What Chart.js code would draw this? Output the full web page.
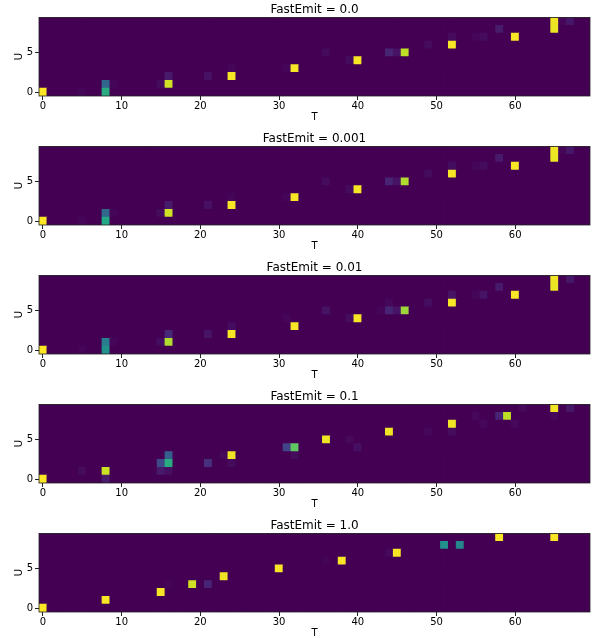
<!DOCTYPE html>
<html>
<head>
<meta charset="utf-8">
<script src="https://cdn.jsdelivr.net/npm/chart.js@4.4.1/dist/chart.umd.min.js"></script>
<style>
  html, body { margin: 0; padding: 0; background: #fff; overflow: hidden; }
  .panel { position: absolute; left: 0; width: 593px; height: 125px; }
</style>
</head>
<body>
<div id="wrap"></div>
<script>
// axis categories
const T_LABELS = Array.from({ length: 70 }, (_, i) => i)
const U_ROWS = [0, 1, 2, 3, 4, 5, 6, 7, 8, 9]
const FASTEMIT = ['0.0', '0.001', '0.01', '0.1', '1.0']

// non-zero cells per panel: [T, U, value]
const CELLS_0 = [
  [0, 0, 1.0], [5, 0, 0.015], [8, 0, 0.62], [8, 1, 0.33], [9, 1, 0.015],
  [15, 1, 0.03], [16, 1, 0.93], [16, 2, 0.07], [21, 2, 0.045], [24, 2, 0.99], [24, 3, 0.015],
  [31, 3, 0.015], [32, 3, 0.99], [36, 5, 0.025], [39, 4, 0.03], [40, 4, 0.99],
  [44, 5, 0.1], [45, 5, 0.05], [46, 5, 0.9], [49, 6, 0.03], [52, 6, 0.99], [52, 7, 0.03],
  [55, 7, 0.015], [56, 7, 0.03], [58, 8, 0.07], [60, 7, 0.99],
  [65, 8, 0.97], [65, 9, 0.98], [66, 9, 0.015], [67, 9, 0.06]
]
const CELLS_1 = [
  [0, 0, 1.0], [5, 0, 0.015], [8, 0, 0.6], [8, 1, 0.34], [9, 1, 0.015],
  [15, 1, 0.03], [16, 1, 0.93], [16, 2, 0.07], [21, 2, 0.045], [24, 2, 0.99], [24, 3, 0.015],
  [31, 3, 0.015], [32, 3, 0.99], [36, 5, 0.03], [39, 4, 0.03], [40, 4, 0.99],
  [44, 5, 0.1], [45, 5, 0.05], [46, 5, 0.88], [49, 6, 0.03], [52, 6, 0.99], [52, 7, 0.035],
  [55, 7, 0.015], [56, 7, 0.03], [58, 8, 0.07], [60, 7, 0.99],
  [65, 8, 0.97], [65, 9, 0.98], [66, 9, 0.015], [67, 9, 0.06]
]
const CELLS_2 = [
  [0, 0, 1.0], [5, 0, 0.015], [8, 0, 0.5], [8, 1, 0.42], [9, 1, 0.015],
  [15, 1, 0.035], [16, 1, 0.88], [16, 2, 0.11], [21, 2, 0.05], [24, 2, 0.99], [24, 3, 0.035],
  [31, 4, 0.015], [32, 3, 0.99], [36, 5, 0.05], [39, 4, 0.03], [40, 4, 0.99],
  [43, 5, 0.015], [44, 5, 0.1], [44, 6, 0.02], [45, 5, 0.05], [46, 5, 0.85],
  [49, 6, 0.035], [52, 6, 0.99], [52, 7, 0.05], [55, 7, 0.015], [56, 7, 0.05],
  [58, 8, 0.07], [60, 7, 0.99], [65, 8, 0.97], [65, 9, 0.98], [67, 9, 0.06]
]
const CELLS_3 = [
  [0, 0, 1.0], [5, 1, 0.03], [8, 0, 0.07], [8, 1, 0.92],
  [15, 1, 0.07], [15, 2, 0.22], [16, 1, 0.04], [16, 2, 0.62], [16, 3, 0.3],
  [21, 2, 0.14], [23, 3, 0.02], [24, 2, 0.03], [24, 3, 0.98],
  [31, 4, 0.2], [32, 3, 0.03], [32, 4, 0.75], [36, 5, 0.98],
  [39, 5, 0.02], [40, 4, 0.04], [44, 6, 0.98], [49, 6, 0.02],
  [52, 6, 0.03], [52, 7, 0.98], [55, 8, 0.02], [56, 7, 0.02],
  [58, 8, 0.1], [59, 8, 0.9], [60, 7, 0.02], [61, 9, 0.02],
  [65, 8, 0.02], [65, 9, 0.98], [67, 9, 0.06]
]
const CELLS_4 = [
  [0, 0, 1.0], [8, 1, 0.99], [15, 2, 0.99], [16, 3, 0.015], [19, 3, 0.93], [21, 3, 0.1],
  [23, 4, 0.98], [30, 5, 0.99], [36, 6, 0.01], [38, 6, 0.99], [44, 7, 0.02], [45, 7, 0.99],
  [51, 8, 0.5], [53, 8, 0.46], [58, 9, 0.99], [65, 9, 0.99]
]
const PANELS = [CELLS_0, CELLS_1, CELLS_2, CELLS_3, CELLS_4]

// viridis colormap stops
const VIRIDIS = ['#440154', '#482475', '#414487', '#355f8d', '#2a788e', '#21918c',
  '#22a884', '#44bf70', '#7ad151', '#bddf26', '#fde725']

function hexRgb(h) {
  return [1, 3, 5].map(i => parseInt(h.slice(i, i + 2), 16))
}

function viridis(v) {
  const x = Math.min(Math.max(v, 0), 1) * 10
  const i = Math.min(Math.floor(x), 9)
  const f = x - i
  const a = hexRgb(VIRIDIS[i]), b = hexRgb(VIRIDIS[i + 1])
  const c = a.map((av, k) => Math.round(av + (b[k] - av) * f))
  return `rgb(${c[0]},${c[1]},${c[2]})`
}

const FONT = 'DejaVu Sans'

const frame = {
  id: 'frame',
  beforeDatasetsDraw(chart) {
    const { ctx, chartArea: a } = chart
    ctx.save()
    ctx.fillStyle = VIRIDIS[0]
    ctx.fillRect(a.left, a.top, a.right - a.left, a.bottom - a.top)
    ctx.restore()
  },
  afterDatasetsDraw(chart) {
    const { ctx, chartArea: a } = chart
    ctx.save()
    ctx.strokeStyle = '#222'
    ctx.lineWidth = 0.8
    ctx.strokeRect(a.left, a.top, a.right - a.left, a.bottom - a.top)
    ctx.restore()
  }
}

function buildDatasets(cells) {
  const grid = U_ROWS.map(() => T_LABELS.map(() => 0))
  cells.forEach(([t, u, v]) => { grid[u][t] = v })
  return U_ROWS.map(u => ({
    data: T_LABELS.map(() => [u - 0.5, u + 0.5]),
    backgroundColor: grid[u].map(viridis),
    borderWidth: 0,
    grouped: false,
    barPercentage: 1,
    categoryPercentage: 1
  }))
}

const wrap = document.getElementById('wrap')
PANELS.forEach((cells, k) => {
  const div = document.createElement('div')
  div.className = 'panel'
  div.style.top = (k * 129) + 'px'
  const canvas = document.createElement('canvas')
  canvas.width = 593
  canvas.height = 125
  div.appendChild(canvas)
  wrap.appendChild(div)

  new Chart(canvas, {
    type: 'bar',
    data: { labels: T_LABELS, datasets: buildDatasets(cells) },
    options: {
      responsive: false,
      animation: false,
      layout: { padding: { left: 0, right: 3, top: 0, bottom: 1 } },
      plugins: {
        legend: { display: false },
        tooltip: { enabled: false },
        title: {
          display: true,
          text: 'FastEmit = ' + FASTEMIT[k],
          fullSize: false,
          color: '#000',
          font: { family: FONT, size: 12, weight: 'normal' },
          padding: { top: 3, bottom: 0 }
        }
      },
      scales: {
        x: {
          type: 'category',
          offset: true,
          afterBuildTicks: s => { s.ticks = s.ticks.filter(t => t.value % 10 === 0) },
          afterFit: s => { s.height = 28 },
          grid: { display: true, offset: false, drawOnChartArea: false, drawTicks: true, tickLength: 4, tickColor: '#222' },
          border: { display: false },
          ticks: { color: '#000', font: { family: FONT, size: 10 }, padding: 0, maxRotation: 0, autoSkip: false },
          title: { display: true, text: 'T', color: '#000', font: { family: FONT, size: 10 }, padding: { top: 0, bottom: 0.5 } }
        },
        y: {
          type: 'linear',
          min: -0.5,
          max: 9.5,
          afterBuildTicks: s => { s.ticks = [{ value: 0 }, { value: 5 }] },
          afterFit: s => { s.width = 39 },
          grid: { display: true, drawOnChartArea: false, drawTicks: true, tickLength: 4, tickColor: '#222' },
          border: { display: false },
          ticks: { color: '#000', font: { family: FONT, size: 10 }, padding: 2 },
          title: { display: true, text: 'U', color: '#000', font: { family: FONT, size: 10 }, padding: { top: 13, bottom: 0 } }
        }
      }
    },
    plugins: [frame]
  })
})
</script>
</body>
</html>
